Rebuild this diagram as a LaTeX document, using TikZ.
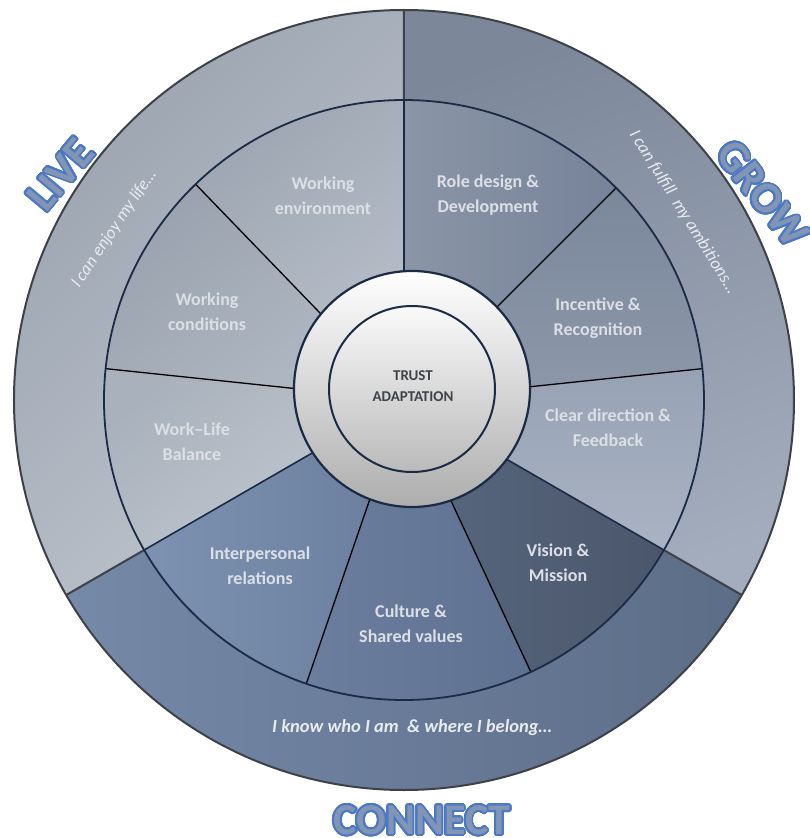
\documentclass[tikz,border=0pt]{standalone}
\usepackage{fontspec}
\setmainfont{Carlito}
\usepackage{contour}
\contourlength{1.7pt}
\contournumber{32}
\usetikzlibrary{positioning}

\definecolor{rim}{HTML}{3E4148}
\definecolor{navy}{HTML}{1C2B45}
\definecolor{paletext}{HTML}{DCE0E6}
\definecolor{mottotext}{HTML}{E8EBEF}
\definecolor{hubtext}{HTML}{404448}
\definecolor{tagfill}{HTML}{8395B4}
\definecolor{tagline}{HTML}{4A78C6}
% live side
\definecolor{liveA}{HTML}{9AA3AF}
\definecolor{liveB}{HTML}{C0C6CF}
\definecolor{envA}{HTML}{9DA6B2}
\definecolor{envB}{HTML}{B9C0CA}
\definecolor{condA}{HTML}{99A2AE}
\definecolor{condB}{HTML}{B2BAC4}
\definecolor{wlbA}{HTML}{A9B1BC}
\definecolor{wlbB}{HTML}{C2C9D1}
% grow side
\definecolor{growA}{HTML}{7C8799}
\definecolor{growB}{HTML}{A3ADBD}
\definecolor{roleA}{HTML}{8A95A6}
\definecolor{roleB}{HTML}{77839A}
\definecolor{incA}{HTML}{7B879B}
\definecolor{incB}{HTML}{8D98AA}
\definecolor{clearA}{HTML}{97A2B4}
\definecolor{clearB}{HTML}{A9B3C3}
% connect side
\definecolor{connA}{HTML}{7589A8}
\definecolor{connB}{HTML}{5C6D87}
\definecolor{interA}{HTML}{7D92B2}
\definecolor{interB}{HTML}{6A7D9C}
\definecolor{cultA}{HTML}{6B7E9E}
\definecolor{cultB}{HTML}{5F7190}
\definecolor{visA}{HTML}{596880}
\definecolor{visB}{HTML}{4A566B}

\newcommand{\tagword}[1]{\contour{tagline}{\textcolor{tagfill}{#1}}}

\tikzset{
        segtext/.style={text=paletext, align=center, font=\bfseries\fontsize{18}{25}\selectfont},
        motto/.style={text=mottotext, font=\itshape\fontsize{17.5}{20}\selectfont},
        tag/.style={inner sep=0pt, font=\bfseries\fontsize{44}{44}\selectfont},
        spoke/.style={black, line width=1.3pt},
        rimspoke/.style={rim, line width=2pt}
        }

\begin{document}
\begin{tikzpicture}
        \useasboundingbox (-404pt,-438pt) rectangle (406pt,400pt);
        % outer bands
        \shade[top color=liveA, bottom color=liveB, shading angle=45] (90:300pt) -- (90:390pt) arc[start angle=90, end angle=210, radius=390pt] -- (210:300pt) arc[start angle=210, end angle=90, radius=300pt] -- cycle;
        \shade[top color=growA, bottom color=growB, shading angle=20] (-30:300pt) -- (-30:390pt) arc[start angle=-30, end angle=90, radius=390pt] -- (90:300pt) arc[start angle=90, end angle=-30, radius=300pt] -- cycle;
        \shade[left color=connA, right color=connB] (210:300pt) -- (210:390pt) arc[start angle=210, end angle=330, radius=390pt] -- (330:300pt) arc[start angle=330, end angle=210, radius=300pt] -- cycle;
        % inner segments
        \shade[top color=envA, bottom color=envB, shading angle=40] (0,0) -- (90:300pt) arc[start angle=90, end angle=134, radius=300pt] -- cycle;
        \shade[top color=condA, bottom color=condB, shading angle=40] (0,0) -- (134:300pt) arc[start angle=134, end angle=174, radius=300pt] -- cycle;
        \shade[top color=wlbA, bottom color=wlbB, shading angle=40] (0,0) -- (174:300pt) arc[start angle=174, end angle=210, radius=300pt] -- cycle;
        \shade[left color=roleA, right color=roleB] (0,0) -- (45:300pt) arc[start angle=45, end angle=90, radius=300pt] -- cycle;
        \shade[top color=incA, bottom color=incB] (0,0) -- (6:300pt) arc[start angle=6, end angle=45, radius=300pt] -- cycle;
        \shade[top color=clearA, bottom color=clearB] (0,0) -- (-30:300pt) arc[start angle=-30, end angle=6, radius=300pt] -- cycle;
        \shade[left color=interA, right color=interB] (0,0) -- (210:300pt) arc[start angle=210, end angle=251, radius=300pt] -- cycle;
        \shade[left color=cultA, right color=cultB] (0,0) -- (251:300pt) arc[start angle=251, end angle=295, radius=300pt] -- cycle;
        \shade[left color=visA, right color=visB] (0,0) -- (295:300pt) arc[start angle=295, end angle=330, radius=300pt] -- cycle;

        % spokes
        \draw[spoke] (0,0) -- (134:300pt) (0,0) -- (174:300pt);
        \draw[spoke] (0,0) -- (45:300pt) (0,0) -- (6:300pt);
        \draw[spoke] (0,0) -- (251:300pt) (0,0) -- (295:300pt);
        \draw[navy, line width=1.6pt] (0,0) -- (90:300pt) (0,0) -- (210:300pt) (0,0) -- (330:300pt);
        \draw[rimspoke] (90:300pt) -- (90:390pt) (210:300pt) -- (210:390pt) (330:300pt) -- (330:390pt);
        % rings
        \draw[navy, line width=1.8pt] (0,0) circle[radius=300pt];
        \draw[rim, line width=2pt] (0,0) circle[radius=390pt];

        % hub
        \node[circle, draw=navy, line width=2.2pt, minimum size=236pt, inner sep=0pt, top color=white, bottom color=black!32] (hub) at (8pt,11pt) {};
        \node[circle, draw=navy, line width=2pt, minimum size=166pt, inner sep=0pt, top color=black!2, bottom color=black!27] (core) at (hub) {};
        \node[text=hubtext, align=center, font=\bfseries\fontsize{15}{21}\selectfont] (trust) at (9pt,14pt) {TRUST\\ADAPTATION};

        % segment labels
        \node[segtext] (env) at (-81pt,204pt) {Working\\environment};
        \node[segtext] (cond) at (-197pt,88pt) {Working\\conditions};
        \node[segtext] (wlb) at (-212pt,-42pt) {Work--Life\\Balance};
        \node[segtext] (role) at (84pt,205pt) {Role design \&\\Development};
        \node[segtext] (incent) at (194pt,82pt) {Incentive \&\\Recognition};
        \node[segtext] (clear) at (204pt,-28pt) {Clear direction \&\\Feedback};
        \node[segtext] (inter) at (-144pt,-166pt) {Interpersonal\\relations};
        \node[segtext] (culture) at (7pt,-224pt) {Culture \&\\Shared values};
        \node[segtext] (vision) at (154pt,-163pt) {Vision \&\\Mission};

        % band mottos
        \node[motto, rotate=56] (enjoy) at (-290pt,171pt) {I can enjoy my life\dots};
        \node[motto, rotate=-58] (fulfil) at (279pt,188pt) {I can fulfill\ \ my ambitions\dots};
        \node[motto, font=\bfseries\itshape\fontsize{18.5}{20}\selectfont] (belong) at (8pt,-328pt) {I know who I am\ \ \& where I belong\dots};

        % outlined titles
        \node[tag, rotate=50] (live) at (-343pt,225pt) {\tagword{LIVE}};
        \node[tag, rotate=-52] (grow) at (358pt,206pt) {\tagword{GROW}};
        \node[tag] (connect) at (18pt,-421pt) {\tagword{CONNECT}};
\end{tikzpicture}
\end{document}
